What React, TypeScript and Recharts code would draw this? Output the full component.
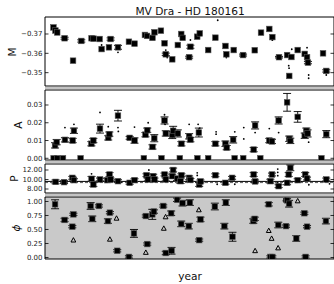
import React from 'react';
import { ScatterChart, Scatter, XAxis, YAxis, ErrorBar, ReferenceArea, ReferenceLine } from 'recharts';

// shared time axis
const YEAR_DOMAIN: [number, number] = [1998.72, 2014.8];
const YEAR_TICKS = [2000, 2002, 2004, 2006, 2008, 2010, 2012, 2014];

// M panel
const M_YEARS = [1999.19, 1999.3, 1999.4, 1999.81, 2000.28, 2000.74, 2001.31, 2001.42, 2001.76, 2001.87, 2002.28, 2002.37, 2002.78, 2003.39, 2003.7, 2004.28, 2004.4, 2004.7, 2004.81, 2005.17, 2005.37, 2005.44, 2005.8, 2006.11, 2006.3, 2006.38, 2006.74, 2006.81, 2007.19, 2007.33, 2007.8, 2008.2, 2008.76, 2008.81, 2009.22, 2009.74, 2010.39, 2010.74, 2011.2, 2011.37, 2011.74, 2012.19, 2012.43, 2012.31, 2012.78, 2013.17, 2013.3, 2013.35, 2014.19, 2014.37];
const M_VALUES = [-0.3734, -0.3718, -0.3708, -0.3678, -0.3562, -0.3664, -0.3678, -0.3676, -0.3674, -0.3622, -0.3631, -0.3674, -0.3631, -0.366, -0.365, -0.3695, -0.369, -0.368, -0.3709, -0.3717, -0.3652, -0.3595, -0.3569, -0.3643, -0.37, -0.368, -0.358, -0.3634, -0.3686, -0.3703, -0.3617, -0.3681, -0.3638, -0.3595, -0.3617, -0.3591, -0.3616, -0.3707, -0.3726, -0.3684, -0.358, -0.3591, -0.3581, -0.3483, -0.3617, -0.3597, -0.358, -0.3552, -0.36, -0.3509];
const M_ERRORS = [0, 0, 0, 0.0005, 0, 0.0006, 0, 0, 0, 0, 0, 0.0006, 0.001, 0, 0, 0, 0, 0, 0, 0, 0, 0.0006, 0, 0, 0, 0, 0.0005, 0.0008, 0, 0, 0, 0, 0, 0, 0, 0.0005, 0, 0, 0, 0, 0.0004, 0, 0, 0, 0, 0, 0, 0.0006, 0, 0.0006];
const M_DOT_YEARS = [2008.33, 2002.78, 2005.44, 2005.52, 2012.28, 2012.3, 2012.45, 2013.39, 2013.39, 2014.37, 2011.37, 2006.81, 2001.87, 2008.81, 2013.3];
const M_DOT_VALUES = [-0.3771, -0.3605, -0.3617, -0.3578, -0.3536, -0.3523, -0.3621, -0.3488, -0.3471, -0.3488, -0.3668, -0.3669, -0.3643, -0.3578, -0.3629];

// A panel
const A_YEARS = [1999.28, 1999.37, 1999.83, 2000.26, 2000.33, 2001.3, 2001.41, 2001.78, 2002.24, 2002.3, 2002.78, 2003.43, 2003.7, 2004.31, 2004.41, 2004.7, 2004.8, 2005.37, 2005.44, 2005.8, 2005.85, 2006.11, 2006.31, 2006.74, 2006.81, 2007.28, 2008.2, 2008.76, 2008.83, 2009.19, 2010.33, 2010.41, 2011.2, 2011.35, 2011.72, 2012.19, 2012.31, 2012.37, 2012.78, 2013.17, 2013.26, 2013.33, 2014.37];
const A_VALUES = [0.0073, 0.0091, 0.0104, 0.01, 0.0155, 0.0082, 0.01, 0.0167, 0.0115, 0.0136, 0.024, 0.0115, 0.01, 0.0133, 0.0158, 0.0064, 0.0113, 0.0213, 0.014, 0.0131, 0.0155, 0.014, 0.0082, 0.0124, 0.0105, 0.0145, 0.0082, 0.0082, 0.006, 0.0104, 0.0049, 0.0185, 0.01, 0.0095, 0.0213, 0.0315, 0.011, 0.0098, 0.0233, 0.0127, 0.0155, 0.014, 0.0136];
const A_ERRORS = [0.0015, 0.0015, 0.0012, 0.0012, 0.0015, 0.0012, 0.0012, 0.0025, 0.0012, 0.0012, 0.003, 0.0008, 0.0015, 0.0012, 0.0012, 0.0012, 0.002, 0.002, 0.0015, 0.002, 0.0025, 0.002, 0.0012, 0.0015, 0.0012, 0.0025, 0.0012, 0.0015, 0.0012, 0.0018, 0.0012, 0.002, 0.0012, 0.0012, 0.002, 0.005, 0.0015, 0.0015, 0.003, 0.0015, 0.0015, 0.002, 0.002];
const A_ZERO_YEARS = [1999.2, 1999.4, 1999.72, 2000.7, 2004.22, 2005.2, 2006.22, 2007.2, 2007.8, 2009.27, 2009.75, 2010.7, 2014.1];
const A_DOT_YEARS = [2001.78, 2002.78, 2002.8, 2002.24, 2000.33, 1999.83, 2003.7, 2004.46, 2005.37, 2005.4, 2006.74, 2007.24, 2007.33, 2008.24, 2008.24, 2009.28, 2009.78, 2009.78, 2011.2, 2013.39, 2011.72, 2010.41];
const A_DOT_VALUES = [0.0258, 0.0173, 0.0151, 0.0178, 0.0191, 0.0173, 0.0176, 0.02, 0.0245, 0.0191, 0.0191, 0.0191, 0.017, 0.0149, 0.0136, 0.0149, 0.0173, 0.0109, 0.0167, 0.0091, 0.0145, 0.0145];

// P panel
const P_YEARS = [1999.31, 1999.78, 2000.24, 2000.33, 2001.31, 2001.41, 2001.78, 2002.19, 2002.31, 2002.37, 2002.78, 2003.43, 2003.7, 2004.37, 2004.44, 2004.74, 2004.81, 2005.37, 2005.44, 2005.85, 2005.8, 2006.07, 2006.26, 2006.31, 2006.74, 2006.81, 2007.3, 2007.37, 2008.2, 2008.76, 2009.13, 2010.33, 2010.41, 2011.26, 2011.35, 2011.72, 2012.19, 2012.28, 2012.37, 2012.78, 2013.2, 2013.3, 2014.37];
const P_VALUES = [9.5, 9.44, 10.35, 9.86, 10.14, 8.95, 10.0, 9.86, 11.05, 10.0, 9.65, 9.3, 9.86, 10.9, 10.0, 10.7, 10.0, 11.05, 10.0, 12.0, 10.7, 10.2, 9.65, 10.9, 10.35, 9.9, 8.95, 9.6, 10.9, 9.3, 10.35, 11.05, 9.6, 9.65, 11.05, 8.6, 9.3, 11.05, 12.45, 9.86, 11.05, 10.2, 10.0];
const P_ERRORS = [0.4, 0.3, 0.3, 0.3, 0.5, 0.4, 0.3, 0.3, 0.4, 0.3, 0.3, 0.3, 0.3, 0.3, 0.3, 0.4, 0.3, 0.3, 0.3, 0.4, 0.4, 0.4, 0.5, 0.3, 0.4, 0.3, 0.4, 0.3, 0.3, 0.3, 0.3, 0.4, 0.3, 0.4, 0.3, 0.3, 0.4, 0.4, 0.6, 0.3, 0.4, 0.3, 0.3];
const P_DOT_YEARS = [2011.67, 2011.67, 2011.67, 2011.67, 2002.37, 2007.19, 2007.19, 2001.31, 2004.5, 2008.3, 2009.28, 2013.4, 2014.55];
const P_DOT_VALUES = [12.2, 11.5, 10.8, 9.3, 11.4, 11.4, 10.85, 11.2, 12.0, 9.0, 9.0, 8.9, 9.1];
const P_MEAN = 9.6;
const P_FIT = 9.35;

// phase panel
const PHI_YEARS = [1999.28, 1999.81, 2000.24, 2000.3, 2001.26, 2001.35, 2001.72, 2002.22, 2002.33, 2002.74, 2003.39, 2003.67, 2004.33, 2004.41, 2004.69, 2004.78, 2005.3, 2005.44, 2005.76, 2005.74, 2006.07, 2006.3, 2006.37, 2006.72, 2006.78, 2007.3, 2007.37, 2008.17, 2008.7, 2008.78, 2009.15, 2010.31, 2010.39, 2011.17, 2011.26, 2011.37, 2011.7, 2012.13, 2012.19, 2012.3, 2012.7, 2013.15, 2013.22, 2013.3, 2014.35];
const PHI_VALUES = [0.95, 0.67, 0.55, 0.77, 0.92, 0.69, 0.92, 0.65, 0.8, 0.12, 0.01, 0.43, 0.74, 0.24, 0.77, 0.82, 0.92, 0.08, 0.12, 0.79, 1.03, 0.6, 0.97, 0.56, 0.98, 0.31, 0.68, 0.91, 0.56, 0.98, 0.37, 0.65, 0.69, 0.95, 0.01, 0.01, 0.58, 0.56, 1.02, 0.96, 0.34, 0.79, 0.01, 0.55, 0.65];
const PHI_ERRORS = [0.08, 0.03, 0.02, 0.02, 0.06, 0.05, 0.02, 0.04, 0.02, 0.02, 0.02, 0.07, 0.02, 0.02, 0.09, 0.03, 0.02, 0.03, 0.06, 0.04, 0.03, 0.05, 0.05, 0.05, 0.05, 0.02, 0.04, 0.06, 0.05, 0.05, 0.08, 0.04, 0.03, 0.03, 0.02, 0.02, 0.05, 0.02, 0.03, 0.06, 0.05, 0.02, 0.02, 0.02, 0.05];
const PHI_TRI_YEARS = [2000.3, 2002.33, 2002.7, 2004.33, 2005.33, 2005.43, 2007.28, 2010.41, 2011.17, 2011.33, 2011.69, 2012.09, 2012.78];
const PHI_TRI_VALUES = [0.31, 0.325, 0.7, 0.09, 0.52, 0.725, 0.85, 0.12, 0.48, 0.34, 0.17, 1.04, 1.01];

const M_DOMAIN: [number, number] = [-0.37879, -0.3431];
const A_DOMAIN: [number, number] = [-0.00096, 0.03844];
const P_DOMAIN: [number, number] = [7.16, 13.26];
const PHI_DOMAIN: [number, number] = [-0.027, 1.08];

const pts = (xs: number[], ys: number[], es?: number[]) =>
  xs.map((x, i) => ({ x, y: ys[i], e: es ? es[i] : 0 }));
const withErr = (xs: number[], ys: number[], es: number[]) => pts(xs, ys, es).filter((p) => p.e > 0);

const FONT = 'DejaVu Sans';
const CHART_W = 340;
const PLOT_W = 289;
const TICK = 3.5;
const PAD = 4;

const minus = (s: string) => s.replace('-', '\u2212');

const makeYTick = (fmt: (v: number) => string) => (props: any) => {
  const { x, y, payload } = props;
  return (
    <g>
      <line x1={x} x2={x + TICK} y1={y} y2={y} stroke="#000" strokeWidth={0.8} />
      <line x1={x + PLOT_W} x2={x + PLOT_W - TICK} y1={y} y2={y} stroke="#000" strokeWidth={0.8} />
      <text x={x - 2.5} y={y} dy="0.35em" textAnchor="end" fontSize={7} fill="#222" fontFamily={FONT}>
        {fmt(payload.value)}
      </text>
    </g>
  );
};

const makeXTick = (plotH: number, label: boolean) => (props: any) => {
  const { x, y, payload } = props;
  return (
    <g>
      <line x1={x} x2={x} y1={y} y2={y - TICK} stroke="#000" strokeWidth={0.8} />
      <line x1={x} x2={x} y1={y - plotH} y2={y - plotH + TICK} stroke="#000" strokeWidth={0.8} />
      {label && (
        <text x={x} y={y + 9} textAnchor="middle" fontSize={7} fill="#222" fontFamily={FONT}>
          {payload.value}
        </text>
      )}
    </g>
  );
};

const Square = (props: any) => {
  const { cx, cy } = props;
  return <rect x={cx - 2.8} y={cy - 2.8} width={5.6} height={5.6} fill="#000" stroke="#555" strokeWidth={0.6} />;
};
const Nothing = () => <g />;
const Dot = (props: any) => <circle cx={props.cx} cy={props.cy} r={0.9} fill="#000" />;
const Tri = (props: any) => {
  const { cx, cy } = props;
  return <polygon points={`${cx},${cy - 2.5} ${cx - 2.4},${cy + 1.9} ${cx + 2.4},${cy + 1.9}`} fill="none" stroke="#000" strokeWidth={1} />;
};

type PanelProps = {
  top: number;
  bottom: number;
  domain: [number, number];
  ticks: number[];
  fmt: (v: number) => string;
  reversed?: boolean;
  bg?: string;
  showX?: boolean;
  children: React.ReactNode;
};

const Panel = ({ top, bottom, domain, ticks, fmt, reversed, bg, showX, children }: PanelProps) => {
  const plotH = bottom - top;
  const padB = showX ? 24 : PAD;
  return (
    <div style={{ position: 'absolute', left: 0, top: top - PAD }}>
      <ScatterChart width={CHART_W} height={plotH + PAD + padB} margin={{ top: PAD, right: CHART_W - 45 - PLOT_W, bottom: padB, left: 0 }}>
        <XAxis type="number" dataKey="x" domain={YEAR_DOMAIN} ticks={YEAR_TICKS} allowDataOverflow height={0}
          axisLine={false} tickLine={false} tickSize={0} tickMargin={0} interval={0} tick={makeXTick(plotH, !!showX)} />
        <YAxis type="number" dataKey="y" domain={domain} ticks={ticks} allowDataOverflow reversed={reversed} width={45}
          axisLine={false} tickLine={false} tickSize={0} tickMargin={0} interval={0} tick={makeYTick(fmt)} />
        <ReferenceArea x1={YEAR_DOMAIN[0]} x2={YEAR_DOMAIN[1]} y1={domain[0]} y2={domain[1]} ifOverflow="visible"
          fill={bg || 'none'} fillOpacity={1} stroke="#000" strokeWidth={1} />
        {children}
      </ScatterChart>
    </div>
  );
};

// error bars go on their own series underneath, squares are drawn after them
const errSeries = (xs: number[], ys: number[], es: number[]) => (
  <Scatter data={withErr(xs, ys, es)} shape={Nothing} isAnimationActive={false}>
    <ErrorBar dataKey="e" direction="y" width={4} stroke="#000" strokeWidth={0.9} />
  </Scatter>
);

export default function App() {
  return (
    <div style={{ position: 'absolute', left: 0, top: 0, width: 334, height: 284, background: '#fff', overflow: 'hidden', fontFamily: FONT }}>
      <Panel top={17} bottom={86} domain={M_DOMAIN} ticks={[-0.37, -0.36, -0.35]} fmt={(v) => minus(v.toFixed(2))} reversed>
        <Scatter data={pts(M_DOT_YEARS, M_DOT_VALUES)} shape={Dot} isAnimationActive={false} />
        {errSeries(M_YEARS, M_VALUES, M_ERRORS)}
        <Scatter data={pts(M_YEARS, M_VALUES)} shape={Square} isAnimationActive={false} />
      </Panel>
      <Panel top={90} bottom={160} domain={A_DOMAIN} ticks={[0, 0.01, 0.02, 0.03]} fmt={(v) => v.toFixed(2)}>
        <Scatter data={pts(A_DOT_YEARS, A_DOT_VALUES)} shape={Dot} isAnimationActive={false} />
        <Scatter data={A_ZERO_YEARS.map((x) => ({ x, y: 0 }))} shape={Square} isAnimationActive={false} />
        {errSeries(A_YEARS, A_VALUES, A_ERRORS)}
        <Scatter data={pts(A_YEARS, A_VALUES)} shape={Square} isAnimationActive={false} />
      </Panel>
      <Panel top={164} bottom={193} domain={P_DOMAIN} ticks={[8, 10, 12]} fmt={(v) => v.toFixed(2)}>
        <ReferenceLine y={P_FIT} stroke="#333" strokeDasharray="3 2" strokeWidth={0.8} />
        <ReferenceLine y={P_MEAN} stroke="#000" strokeWidth={1} />
        <Scatter data={pts(P_DOT_YEARS, P_DOT_VALUES)} shape={Dot} isAnimationActive={false} />
        {errSeries(P_YEARS, P_VALUES, P_ERRORS)}
        <Scatter data={pts(P_YEARS, P_VALUES)} shape={Square} isAnimationActive={false} />
      </Panel>
      <Panel top={197} bottom={259} domain={PHI_DOMAIN} ticks={[0, 0.25, 0.5, 0.75, 1]} fmt={(v) => v.toFixed(2)} bg="#c9c9c9" showX>
        <Scatter data={pts(PHI_TRI_YEARS, PHI_TRI_VALUES)} shape={Tri} isAnimationActive={false} />
        {errSeries(PHI_YEARS, PHI_VALUES, PHI_ERRORS)}
        <Scatter data={pts(PHI_YEARS, PHI_VALUES)} shape={Square} isAnimationActive={false} />
      </Panel>
      <svg width={334} height={284} style={{ position: 'absolute', left: 0, top: 0, pointerEvents: 'none' }}>
        <rect x={45} y={87.2} width={289} height={1.6} fill="#b5b5b5" />
        <rect x={45} y={161.2} width={289} height={1.6} fill="#b5b5b5" />
        <rect x={45} y={194.2} width={289} height={1.6} fill="#b5b5b5" />
        <text x={190} y={14.5} textAnchor="middle" fontSize={10.6} fontFamily={FONT} fill="#111">MV Dra - HD 180161</text>
        <text x={190} y={279.5} textAnchor="middle" fontSize={10.6} fontFamily={FONT} fill="#111">year</text>
        <text transform="translate(12,52) rotate(-90)" textAnchor="middle" dy="0.35em" fontSize={10.6} fontFamily={FONT} fill="#111">M</text>
        <text transform="translate(18,125) rotate(-90)" textAnchor="middle" dy="0.35em" fontSize={10.6} fontFamily={FONT} fill="#111">A</text>
        <text transform="translate(14,178.5) rotate(-90)" textAnchor="middle" dy="0.35em" fontSize={10.6} fontFamily={FONT} fill="#111">P</text>
        <text transform="translate(16,228) rotate(-90)" textAnchor="middle" dy="0.35em" fontSize={10.6} fontStyle="italic" fontFamily={FONT} fill="#111">ϕ</text>
      </svg>
    </div>
  );
}
